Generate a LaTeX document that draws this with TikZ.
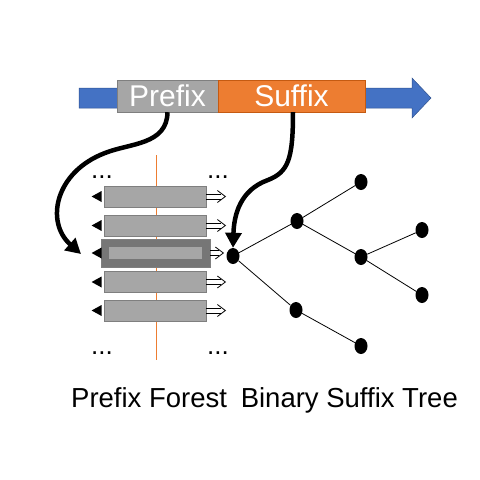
\documentclass[tikz,border=0pt]{standalone}
\usepackage{fontspec}
\setmainfont{Liberation Sans}
\usetikzlibrary{arrows.meta,shapes.geometric}
\definecolor{cblue}{HTML}{4472C4}
\definecolor{cblueD}{HTML}{2F528F}
\definecolor{corange}{HTML}{ED7D31}
\definecolor{corangeD}{HTML}{C55A11}
\definecolor{cgray}{HTML}{A6A6A6}
\definecolor{cgrayD}{HTML}{7F7F7F}
\definecolor{cgrayH}{HTML}{767676}
\tikzset{
  seg/.style={minimum height=32pt, inner sep=0pt, text=white, font=\fontsize{30}{30}\selectfont},
  barbox/.style={draw=cgrayD, fill=cgray, line width=0.8pt, minimum width=102pt, minimum height=21pt, inner sep=0pt},
  treenode/.style={ellipse, fill=black, minimum width=13pt, minimum height=16pt, inner sep=0pt},
  treeedge/.style={line width=0.8pt},
  bigarrow/.style={line width=4.5pt, -{Triangle[length=15pt,width=16pt]}},
  lbl/.style={font=\fontsize{27.5}{28}\selectfont, inner sep=0pt},
  dotstxt/.style={font=\fontsize{26}{26}\selectfont, inner sep=0pt}
}
\newcommand{\lefttri}[1]{\fill ([shift={(-2,-5.5)}]#1.west) -- ++(0,11) -- ++(-10,-5.5) -- cycle;}
\newcommand{\rightimp}[2]{%
  \draw[line width=0.8pt] ([shift={(0,-2.6)}]#1.east) -- ++(#2,0);
  \draw[line width=0.8pt] ([shift={(0,2.6)}]#1.east) -- ++(#2,0);
  \draw[line width=0.8pt] ([shift={(#2-4,-6)}]#1.east) -- ([shift={(#2+4,0)}]#1.east) -- ([shift={(#2-4,6)}]#1.east);}
\begin{document}
\begin{tikzpicture}[x=1pt,y=-1pt]
\useasboundingbox (0,0) rectangle (480,480);
% main arrow
\fill[cblue, draw=cblueD, line width=0.5pt] (79,88) -- (412,88) -- (412,78) -- (431,98) -- (412,118) -- (412,108) -- (79,108) -- cycle;
\node[seg, draw=cgrayD, fill=cgray, minimum width=101pt] (prefix) at (167.5,96) {Prefix};
\node[seg, draw=corangeD, fill=corange, minimum width=147pt] (suffix) at (291.5,96) {Suffix};
% vertical line
\coordinate (vtop) at (156,155);
\coordinate (vbot) at (156,360);
\draw[corange, line width=0.8pt] (vtop) -- (vbot);
% bars
\node[barbox] (b1) at (155,196.5) {};
\node[barbox] (b2) at (155,225.5) {};
\node[draw=cgrayD, fill=cgrayH, line width=0.8pt, minimum width=109pt, minimum height=28pt, inner sep=0pt] (b3) at (155.5,253) {};
\node[fill=cgray, minimum width=93pt, minimum height=12pt, inner sep=0pt] (b3i) at (155.5,253) {};
\node[barbox] (b4) at (155,282) {};
\node[barbox] (b5) at (155,310.5) {};
\lefttri{b1}\lefttri{b2}\lefttri{b4}\lefttri{b5}
\fill ([shift={(1,-5.5)}]b3.west) -- ++(0,11) -- ++(-10,-5.5) -- cycle;
\rightimp{b1}{15}\rightimp{b2}{15}\rightimp{b4}{15}\rightimp{b5}{15}
\rightimp{b3}{9}
% dots
\node[dotstxt] (d1) at (102,177) {...};
\node[dotstxt] (d2) at (218,177) {...};
\node[dotstxt] (d3) at (102,353) {...};
\node[dotstxt] (d4) at (218,353) {...};
% tree
\node[treenode] (r) at (233,256) {};
\node[treenode] (a) at (297,221) {};
\node[treenode] (b) at (296,310) {};
\node[treenode] (a1) at (361,182) {};
\node[treenode] (a2) at (361,257) {};
\node[treenode] (a2a) at (422,230) {};
\node[treenode] (a2b) at (422,295) {};
\node[treenode] (b1n) at (361,346) {};
\draw[treeedge] (r) -- (a);
\draw[treeedge] (r) -- (b);
\draw[treeedge] (a) -- (a1);
\draw[treeedge] (a) -- (a2);
\draw[treeedge] (a2) -- (a2a);
\draw[treeedge] (a2) -- (a2b);
\draw[treeedge] (b) -- (b1n);
% curved arrows
\coordinate (t1) at (81,254);
\draw[bigarrow] ([xshift=0pt]prefix.south) .. controls (167,145) and (130,143) .. (105,153) .. controls (55,172) and (45,222) .. (t1);
\draw[bigarrow] ([xshift=1.5pt]suffix.south) .. controls (293,160) and (288,172) .. (268,180) .. controls (240,190) and (234,215) .. (r.north);
% labels
\node[lbl, anchor=base west] (l1) at (71,407) {Prefix Forest};
\node[lbl, anchor=base east] (l2) at (458,407) {Binary Suffix Tree};
\end{tikzpicture}
\end{document}
